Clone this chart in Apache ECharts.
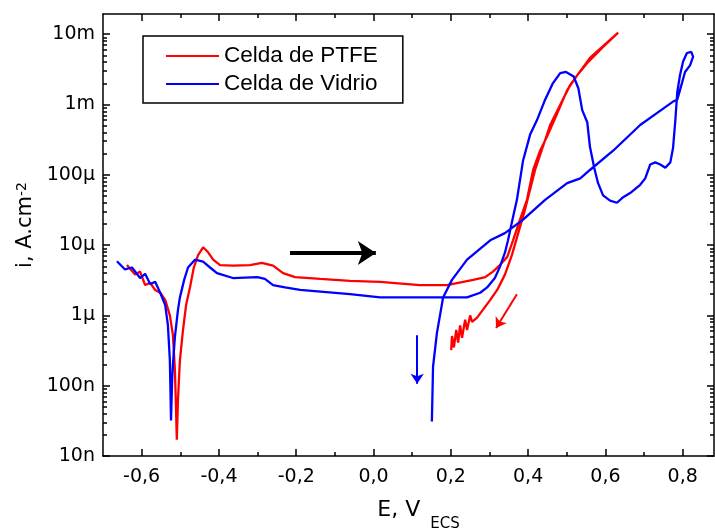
<!DOCTYPE html>
<html>
<head>
<meta charset="utf-8">
<title>Curvas de polarización</title>
<script src="https://cdn.jsdelivr.net/npm/echarts@6/dist/echarts.min.js"></script>
<style>
  html, body { margin: 0; padding: 0; background: #fff; }
  #chart { width: 715px; height: 530px; }
</style>
</head>
<body>
<div id="chart"></div>
<script>
// E (V vs ECS) e i (A/cm2): barrido de ida y luego de vuelta
const ptfeE = [-0.638, -0.617, -0.604, -0.591, -0.578, -0.565, -0.552, -0.539, -0.527, -0.519,
  -0.514, -0.511, -0.509, -0.506, -0.501, -0.493, -0.485, -0.475, -0.465, -0.454,
  -0.441, -0.428, -0.415, -0.397, -0.364, -0.320, -0.289, -0.260, -0.234, -0.203,
  -0.138, -0.061, 0.017, 0.120, 0.190, 0.258, 0.289, 0.309, 0.327, 0.346,
  0.361, 0.379, 0.397, 0.413, 0.431, 0.449, 0.476, 0.501, 0.527, 0.553, 0.594, 0.633,
  0.612, 0.560, 0.509, 0.457, 0.418, 0.392, 0.377, 0.358, 0.340, 0.320,
  0.302, 0.268, 0.255, 0.250, 0.242, 0.237, 0.229, 0.224, 0.219, 0.214, 0.208, 0.203, 0.201];
const ptfeI = [5.2e-6, 3.8e-6, 4.2e-6, 2.7e-6, 2.9e-6, 2.3e-6, 2.1e-6, 1.66e-6, 1.0e-6, 5.2e-7,
  1.7e-7, 4.6e-8, 1.7e-8, 6.3e-8, 2.3e-7, 6.2e-7, 1.4e-6, 2.5e-6, 4.8e-6, 7.2e-6,
  9.3e-6, 7.9e-6, 6.2e-6, 5.2e-6, 5.1e-6, 5.2e-6, 5.6e-6, 5.1e-6, 4.0e-6, 3.5e-6,
  3.3e-6, 3.1e-6, 3.0e-6, 2.7e-6, 2.7e-6, 3.2e-6, 3.5e-6, 4.2e-6, 5.2e-6, 6.8e-6,
  1.17e-5, 2.3e-5, 4.4e-5, 1.17e-4, 2.2e-4, 3.5e-4, 7.6e-4, 1.6e-3, 2.6e-3, 3.9e-3, 6.6e-3, 1.05e-2,
  8.3e-3, 4.6e-3, 1.9e-3, 5.1e-4, 1.17e-4, 3.2e-5, 1.66e-5, 7.2e-6, 3.8e-6, 2.3e-6,
  1.66e-6, 9.3e-7, 8.1e-7, 1.0e-6, 6.2e-7, 8.7e-7, 4.8e-7, 7.2e-7, 4.1e-7, 6.2e-7, 3.5e-7, 5.1e-7, 3.2e-7];

const vidrioE = [-0.664, -0.643, -0.625, -0.604, -0.591, -0.578, -0.565, -0.552, -0.539, -0.532,
  -0.527, -0.524, -0.521, -0.519, -0.514, -0.506, -0.501, -0.490, -0.480, -0.462,
  -0.441, -0.423, -0.405, -0.364, -0.301, -0.281, -0.260, -0.229, -0.190, -0.061,
  0.017, 0.180, 0.242, 0.276, 0.294, 0.314, 0.327, 0.340, 0.348, 0.361,
  0.371, 0.387, 0.405, 0.423, 0.444, 0.464, 0.483, 0.498, 0.518, 0.530,
  0.540, 0.553, 0.560, 0.571, 0.581, 0.594, 0.612, 0.630, 0.646, 0.664,
  0.690, 0.703, 0.716, 0.729, 0.742, 0.755, 0.768, 0.775, 0.781, 0.786,
  0.793, 0.801, 0.811, 0.822, 0.827, 0.819, 0.806, 0.793, 0.786,
  0.775, 0.734, 0.690, 0.620, 0.560, 0.535, 0.501, 0.444, 0.387, 0.340,
  0.302, 0.242, 0.203, 0.180, 0.164, 0.154, 0.151];
const vidrioI = [5.9e-6, 4.5e-6, 4.8e-6, 3.4e-6, 3.9e-6, 2.8e-6, 3.0e-6, 2.1e-6, 1.4e-6, 7.2e-7,
  2.3e-7, 3.2e-8, 1.26e-7, 2.0e-7, 4.9e-7, 1.2e-6, 1.8e-6, 3.2e-6, 4.8e-6, 6.2e-6,
  5.8e-6, 4.8e-6, 4.0e-6, 3.4e-6, 3.5e-6, 3.3e-6, 2.7e-6, 2.5e-6, 2.3e-6, 2.0e-6,
  1.8e-6, 1.8e-6, 1.8e-6, 2.1e-6, 2.5e-6, 3.4e-6, 4.9e-6, 7.8e-6, 1.17e-5, 2.5e-5,
  4.4e-5, 1.6e-4, 3.7e-4, 6.0e-4, 1.17e-3, 2.0e-3, 2.8e-3, 2.9e-3, 2.5e-3, 1.7e-3,
  8.3e-4, 5.6e-4, 2.5e-4, 1.26e-4, 7.6e-5, 5.1e-5, 4.3e-5, 4.0e-5, 4.8e-5, 5.5e-5,
  7.2e-5, 8.9e-5, 1.4e-4, 1.5e-4, 1.4e-4, 1.26e-4, 1.5e-4, 2.4e-4, 6.0e-4, 1.5e-3,
  2.6e-3, 4.1e-3, 5.4e-3, 5.6e-3, 4.8e-3, 3.6e-3, 2.9e-3, 1.6e-3, 1.17e-3,
  1.1e-3, 7.6e-4, 5.1e-4, 2.2e-4, 1.17e-4, 8.9e-5, 7.6e-5, 4.4e-5, 2.3e-5, 1.48e-5,
  1.17e-5, 6.2e-6, 3.2e-6, 1.8e-6, 5.6e-7, 1.86e-7, 3.1e-8];

// flechas del sentido de barrido [E, i]
const arrowScan = [[-0.216, 7.7e-6], [0.006, 7.7e-6]];
const arrowPtfe = [[0.371, 2.0e-6], [0.317, 6.6e-7]];
const arrowVidrio = [[0.113, 5.2e-7], [0.113, 1.07e-7]];

const xTicks = [-0.6, -0.4, -0.2, 0, 0.2, 0.4, 0.6, 0.8];
const xTickLabels = ['-0,6', '-0,4', '-0,2', '0,0', '0,2', '0,4', '0,6', '0,8'];
const yTicks = [1e-8, 1e-7, 1e-6, 1e-5, 1e-4, 1e-3, 1e-2];
const yTickLabels = ['10n', '100n', '1µ', '10µ', '100µ', '1m', '10m'];

// marco del gráfico: E de -0,7 a 0,881 y log10(i) de -8 a -1,713
const xMin = -0.7, xMax = 0.881;
const yMin = -8, yMax = -1.713;
const plot = { left: 103, right: 1, top: 14, bottom: 74 };

const lg = Math.log10;
const toPts = (E, I) => E.map((e, k) => [e, lg(I[k])]);
const toLog = (pts) => pts.map((p) => [p[0], lg(p[1])]);

// rejillas auxiliares que cubren justo el tramo con marcas
const plotW = 715 - plot.left - plot.right;
const plotH = 530 - plot.top - plot.bottom;
const px = (e) => plot.left + (e - xMin) / (xMax - xMin) * plotW;
const py = (l) => plot.top + (yMax - l) / (yMax - yMin) * plotH;
const xFirst = xTicks[0], xLast = xTicks[xTicks.length - 1];
const yFirst = yTicks[0], yLast = yTicks[yTicks.length - 1];

const xLabel = (v) => {
  const k = xTicks.findIndex((t) => Math.abs(t - v) < 1e-6);
  return k < 0 ? '' : xTickLabels[k];
};
const yLabel = (v) => {
  const k = yTicks.findIndex((t) => Math.abs(lg(t) - lg(v)) < 1e-6);
  return k < 0 ? '' : yTickLabels[k];
};

const tickFont = { fontFamily: 'DejaVu Sans', fontSize: 19, color: '#000' };
const frameLine = { show: true, onZero: false, lineStyle: { color: '#000', width: 1.5 } };
const tickStyle = { color: '#000', width: 1.5 };

function frameAxis(position, range) {
  return {
    type: 'value', gridIndex: 0, position, min: range[0], max: range[1],
    axisLine: frameLine, axisTick: { show: false }, axisLabel: { show: false },
    splitLine: { show: false },
  };
}

function tickX(position, withLabels) {
  return {
    type: 'value', gridIndex: 1, position, min: xFirst, max: xLast, interval: 0.2,
    axisLine: { show: false, onZero: false },
    axisTick: { show: true, inside: true, length: 7, lineStyle: tickStyle },
    minorTick: { show: true, splitNumber: 2, length: 4, lineStyle: tickStyle },
    axisLabel: withLabels ? Object.assign({ show: true, margin: 12, formatter: xLabel }, tickFont) : { show: false },
    splitLine: { show: false },
  };
}

function tickY(position, withLabels) {
  return {
    type: 'log', logBase: 10, gridIndex: 2, position, min: yFirst, max: yLast,
    axisLine: { show: false, onZero: false },
    axisTick: { show: true, inside: true, length: 7, lineStyle: tickStyle },
    minorTick: { show: true, splitNumber: 9, length: 4, lineStyle: tickStyle },
    axisLabel: withLabels ? Object.assign({ show: true, margin: 8, formatter: yLabel }, tickFont) : { show: false },
    splitLine: { show: false },
  };
}

const xMain = frameAxis('bottom', [xMin, xMax]);
xMain.name = '{t|E, V}{s|ECS}';
xMain.nameLocation = 'middle';
xMain.nameGap = 43;
xMain.nameTextStyle = {
  padding: [0, 0, 0, 20],
  rich: {
    t: { fontFamily: 'DejaVu Sans', fontSize: 22, lineHeight: 24, color: '#000', verticalAlign: 'top' },
    s: { fontFamily: 'DejaVu Sans', fontSize: 15, lineHeight: 15, color: '#000', verticalAlign: 'top', padding: [18, 0, 0, 10] },
  },
};

const yMain = frameAxis('left', [yMin, yMax]);
yMain.name = '{t|i, A.cm}{s|-2}';
yMain.nameLocation = 'middle';
yMain.nameGap = 64;
yMain.nameTextStyle = {
  padding: [0, 0, 0, 20],
  rich: {
    t: { fontFamily: 'DejaVu Sans', fontSize: 21, lineHeight: 24, color: '#000', verticalAlign: 'top' },
    s: { fontFamily: 'DejaVu Sans', fontSize: 14, lineHeight: 4, color: '#000', verticalAlign: 'top' },
  },
};

function arrowSeries(pts, color, width, size) {
  return {
    type: 'lines', coordinateSystem: 'cartesian2d', xAxisIndex: 0, yAxisIndex: 0,
    symbol: ['none', 'arrow'], symbolSize: size, silent: true, z: 5,
    lineStyle: { color, width, opacity: 1, curveness: 0 },
    data: [{ coords: toLog(pts) }],
  };
}

const chart = echarts.init(document.getElementById('chart'));
chart.setOption({
  backgroundColor: '#fff',
  animation: false,
  grid: [
    Object.assign({ outerBoundsMode: 'none' }, plot),
    { outerBoundsMode: 'none', left: px(xFirst), right: 715 - px(xLast), top: plot.top, bottom: plot.bottom },
    { outerBoundsMode: 'none', left: plot.left, right: plot.right, top: py(lg(yLast)), bottom: 530 - py(lg(yFirst)) },
  ],
  legend: {
    data: ['Celda de PTFE', 'Celda de Vidrio'],
    orient: 'vertical', left: 143, top: 36,
    padding: [8, 25, 7, 23],
    icon: 'rect', itemWidth: 53, itemHeight: 2, itemGap: 4,
    borderColor: '#000', borderWidth: 1.5,
    selectedMode: false,
    textStyle: { fontFamily: 'Liberation Sans', fontSize: 22.5, lineHeight: 24, color: '#000' },
  },
  xAxis: [
    xMain,
    frameAxis('top', [xMin, xMax]),
    tickX('bottom', true),
    tickX('top', false),
    { type: 'value', gridIndex: 2, show: false },
  ],
  yAxis: [
    yMain,
    frameAxis('right', [yMin, yMax]),
    tickY('left', true),
    tickY('right', false),
    { type: 'value', gridIndex: 1, show: false },
  ],
  series: [
    {
      name: 'Celda de PTFE', type: 'line', data: toPts(ptfeE, ptfeI),
      symbol: 'none', showSymbol: false, z: 3,
      lineStyle: { color: '#ff0000', width: 2.3 }, itemStyle: { color: '#ff0000' },
    },
    {
      name: 'Celda de Vidrio', type: 'line', data: toPts(vidrioE, vidrioI),
      symbol: 'none', showSymbol: false, z: 4,
      lineStyle: { color: '#0000ff', width: 2.3 }, itemStyle: { color: '#0000ff' },
    },
    arrowSeries(arrowScan, '#000', 4, 18),
    arrowSeries(arrowPtfe, '#ff0000', 2, 10),
    arrowSeries(arrowVidrio, '#0000ff', 2, 10),
  ],
});
</script>
</body>
</html>
